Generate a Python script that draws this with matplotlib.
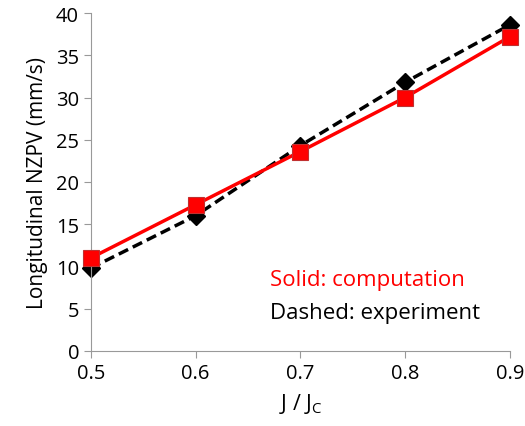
import matplotlib
matplotlib.use("Agg")
import matplotlib.pyplot as plt

plt.rcParams['font.family'] = ['Open Sans', 'DejaVu Sans']

ratio = [0.5, 0.6, 0.7, 0.8, 0.9]
computation = [11.0, 17.3, 23.6, 30.0, 37.2]
experiment = [9.8, 16.0, 24.3, 31.8, 38.6]

fig = plt.figure(figsize=(5.25, 4.27), dpi=100)
ax = fig.add_axes([0.173, 0.176, 0.798, 0.791])

ax.plot(ratio, experiment, color="black", linestyle="--", linewidth=2.5,
        dashes=(3, 1.5), marker="D", markersize=9, zorder=2)
ax.plot(ratio, computation, color="red", linewidth=2.5, marker="s",
        markersize=11, markeredgecolor="#c03030", markeredgewidth=0.8, zorder=3)

ax.set_xlim(0.5, 0.9)
ax.set_ylim(0, 40)
ax.set_xticks(ratio)
ax.set_xticklabels(["0.5", "0.6", "0.7", "0.8", "0.9"])
ax.set_yticks(range(0, 41, 5))

for side in ["top", "right"]:
    ax.spines[side].set_visible(False)
for side in ["left", "bottom"]:
    ax.spines[side].set_color("#999999")
    ax.spines[side].set_clip_on(False)
ax.tick_params(colors="#999999", labelcolor="black", labelsize=14.5, length=5, direction="out")

ax.set_xlabel("J / J$_\\mathregular{C}$", fontsize=15.5, labelpad=6)
ax.set_ylabel("Longitudinal NZPV (mm/s)", fontsize=15, labelpad=6)

ax.text(0.671, 8.5, "Solid: computation", color="red", fontsize=16, va="center")
ax.text(0.671, 4.6, "Dashed: experiment", color="black", fontsize=16, va="center")

for line in ax.lines:
    line.set_clip_on(False)

fig.savefig("out.png", dpi=100)
